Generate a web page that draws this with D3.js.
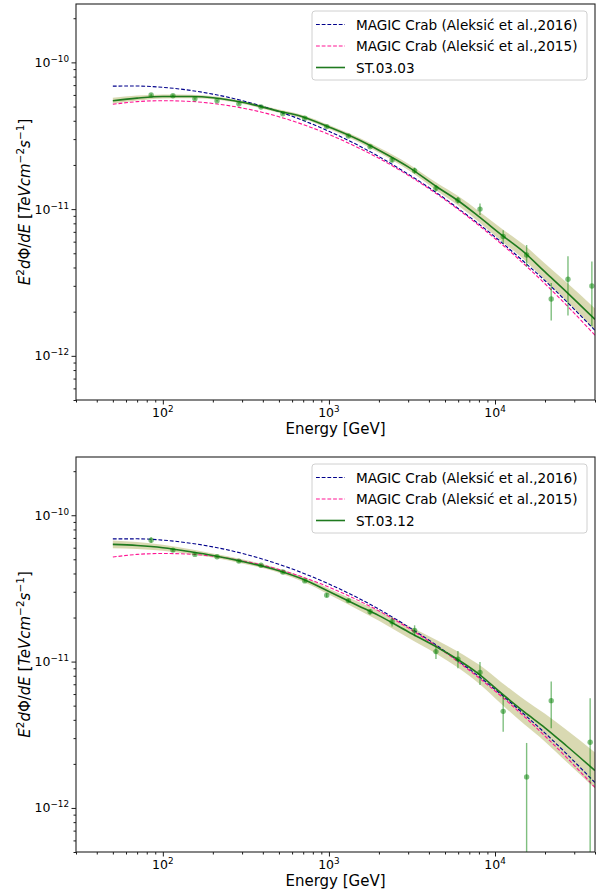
<!DOCTYPE html>
<html>
<head>
<meta charset="utf-8">
<script src="https://cdn.jsdelivr.net/npm/d3@7"></script>
<style>
  body { margin: 0; background: #fff; }
  svg { display: block; }
  text { font-family: "DejaVu Sans", sans-serif; fill: #000; }
</style>
</head>
<body>
<svg id="fig" width="609" height="890"></svg>
<script>
// ---- Model spectra (E^2 dPhi/dE, TeV cm^-2 s^-1) sampled on an energy grid (GeV)
const curveEnergy = [50, 70, 100, 150, 200, 300, 500, 700, 1000, 1500, 2000, 3000, 4500, 6000, 8000, 11000, 15000, 20000, 27000, 40000];

const magic2016 = [6.89e-11, 6.90e-11, 6.76e-11, 6.42e-11, 6.08e-11, 5.49e-11, 4.62e-11, 4.02e-11, 3.39e-11, 2.72e-11,
                   2.28e-11, 1.73e-11, 1.28e-11, 1.01e-11, 7.91e-12, 5.91e-12, 4.36e-12, 3.25e-12, 2.34e-12, 1.49e-12];
const magic2015 = [5.18e-11, 5.40e-11, 5.48e-11, 5.41e-11, 5.25e-11, 4.89e-11, 4.26e-11, 3.77e-11, 3.23e-11, 2.62e-11,
                   2.22e-11, 1.70e-11, 1.26e-11, 9.96e-12, 7.74e-12, 5.75e-12, 4.21e-12, 3.10e-12, 2.21e-12, 1.38e-12];

// Fitted spectrum and its uncertainty band (half width in dex) for each run
const st0303Fit = [5.48e-11, 5.71e-11, 5.86e-11, 5.85e-11, 5.74e-11, 5.35e-11, 4.65e-11, 4.25e-11, 3.63e-11, 2.98e-11,
                   2.52e-11, 1.94e-11, 1.41e-11, 1.14e-11, 8.89e-12, 6.65e-12, 5.07e-12, 3.73e-12, 2.72e-12, 1.77e-12];
const st0303BandDex = [0.020, 0.017, 0.014, 0.012, 0.011, 0.011, 0.011, 0.012, 0.014, 0.016,
                       0.018, 0.022, 0.027, 0.032, 0.037, 0.043, 0.050, 0.057, 0.065, 0.075];

const st0312Fit = [6.32e-11, 6.21e-11, 6.00e-11, 5.61e-11, 5.31e-11, 4.84e-11, 4.18e-11, 3.65e-11, 3.01e-11, 2.41e-11,
                   2.06e-11, 1.60e-11, 1.25e-11, 1.03e-11, 8.22e-12, 6.04e-12, 4.53e-12, 3.53e-12, 2.65e-12, 1.80e-12];
const st0312BandDex = [0.027, 0.024, 0.020, 0.017, 0.014, 0.014, 0.014, 0.017, 0.020, 0.027,
                       0.034, 0.041, 0.048, 0.055, 0.065, 0.075, 0.085, 0.095, 0.109, 0.123];

// ---- Flux points with 1-sigma errors
const st0303Energy = [85, 115, 156, 212, 287, 390, 528, 716, 970, 1310, 1770, 2400, 3280, 4410, 5980, 8120, 11200, 15500, 21800, 27500, 38300];
const st0303Flux = [6.00e-11, 5.93e-11, 5.65e-11, 5.48e-11, 5.23e-11, 4.96e-11, 4.47e-11, 4.16e-11, 3.65e-11, 3.15e-11,
                    2.66e-11, 2.16e-11, 1.83e-11, 1.39e-11, 1.15e-11, 1.00e-11, 6.50e-12, 4.87e-12, 2.44e-12, 3.33e-12, 2.99e-12];
const st0303Err = [1.2e-12, 1.0e-12, 8.0e-13, 7.0e-13, 7.0e-13, 7.0e-13, 7.0e-13, 7.0e-13, 6.0e-13, 6.0e-13,
                   5.0e-13, 7.0e-13, 9.0e-13, 7.0e-13, 6.0e-13, 9.0e-13, 6.8e-13, 8.2e-13, 7.0e-13, 1.45e-12, 1.40e-12];

const st0312Energy = [85, 115, 156, 212, 287, 390, 528, 716, 970, 1310, 1770, 2400, 3280, 4410, 5980, 8120, 11200, 15500, 21800, 37400];
const st0312Flux = [6.76e-11, 5.78e-11, 5.40e-11, 5.20e-11, 4.86e-11, 4.55e-11, 4.09e-11, 3.56e-11, 2.84e-11, 2.61e-11,
                    2.19e-11, 1.87e-11, 1.63e-11, 1.17e-11, 1.04e-11, 8.43e-12, 4.57e-12, 1.63e-12, 5.41e-12, 2.81e-12];
const st0312Err = [3.0e-12, 1.2e-12, 1.0e-12, 8.0e-13, 8.0e-13, 7.0e-13, 7.0e-13, 7.0e-13, 9.0e-13, 7.0e-13,
                   9.0e-13, 1.3e-12, 1.4e-12, 1.3e-12, 1.4e-12, 1.5e-12, 1.25e-12, 1.15e-12, 1.9e-12, 2.8e-12];

// ---- Axis ticks and labels
const xTicks = [1e2, 1e3, 1e4];
const xTickExp = ["2", "3", "4"];
const yTicks = [1e-12, 1e-11, 1e-10];
const yTickExp = ["\u221212", "\u221211", "\u221210"];
const xDomain = [30, 40000];
const yDomain = [5e-13, 2.5e-10];
const legendLabels = ["MAGIC Crab (Aleksi\u0107 et al.,2016)", "MAGIC Crab (Aleksi\u0107 et al.,2015)"];
const runNames = ["ST.03.03", "ST.03.12"];

// ---- Styles
const colBlue = "#00008b";
const colPink = "#ff1493";
const colGreen = "#1f7a1f";
const colPoint = "#008000";
const colBand = "#808000";

const svg = d3.select("#fig");

const panels = [
  { top: 4,   bottom: 400, name: runNames[0], fit: st0303Fit, dex: st0303BandDex,
    E: st0303Energy, F: st0303Flux, err: st0303Err },
  { top: 457, bottom: 852, name: runNames[1], fit: st0312Fit, dex: st0312BandDex,
    E: st0312Energy, F: st0312Flux, err: st0312Err }
];

// minor tick positions (2..9 x 10^n) inside a log domain
function minorTicks(domain) {
  const out = [];
  const lo = Math.floor(Math.log10(domain[0])), hi = Math.ceil(Math.log10(domain[1]));
  for (let e = lo; e <= hi; e++) {
    for (let m = 2; m <= 9; m++) {
      const v = m * Math.pow(10, e);
      if (v >= domain[0] * 0.9999 && v <= domain[1] * 1.0001) out.push(v);
    }
  }
  return out;
}

panels.forEach((p, i) => {
  const x = d3.scaleLog().domain(xDomain).range([76, 595]);
  const y = d3.scaleLog().domain(yDomain).range([p.bottom, p.top]);
  const g = svg.append("g");

  const clipId = "clip" + i;
  g.append("clipPath").attr("id", clipId)
    .append("rect").attr("x", 76).attr("y", p.top).attr("width", 595 - 76).attr("height", p.bottom - p.top);

  const plot = g.append("g").attr("clip-path", `url(#${clipId})`);

  const curve = d3.curveMonotoneX;

  // uncertainty band of the fit
  const band = d3.area()
    .x((d, k) => x(curveEnergy[k]))
    .y0((d, k) => y(p.fit[k] / Math.pow(10, p.dex[k])))
    .y1((d, k) => y(p.fit[k] * Math.pow(10, p.dex[k])))
    .curve(curve);
  plot.append("path").datum(p.fit).attr("d", band)
    .attr("fill", colBand).attr("fill-opacity", 0.3).attr("stroke", "none");

  const line = d3.line().x((d, k) => x(curveEnergy[k])).y(d => y(d)).curve(curve);

  plot.append("path").datum(magic2016).attr("d", line)
    .attr("fill", "none").attr("stroke", colBlue).attr("stroke-width", 1.1).attr("stroke-dasharray", "3.8,1.9");
  plot.append("path").datum(magic2015).attr("d", line)
    .attr("fill", "none").attr("stroke", colPink).attr("stroke-width", 1.1).attr("stroke-dasharray", "3.8,1.9");
  plot.append("path").datum(p.fit).attr("d", line)
    .attr("fill", "none").attr("stroke", colGreen).attr("stroke-width", 1.6);

  // flux points with error bars
  const pts = plot.append("g");
  p.E.forEach((e, k) => {
    const lo = Math.max(p.F[k] - p.err[k], 1e-14);
    const hi = p.F[k] + p.err[k];
    pts.append("line")
      .attr("x1", x(e)).attr("x2", x(e))
      .attr("y1", y(lo)).attr("y2", y(hi))
      .attr("stroke", colPoint).attr("stroke-opacity", 0.5).attr("stroke-width", 1.4);
    pts.append("circle")
      .attr("cx", x(e)).attr("cy", y(p.F[k])).attr("r", 2.7)
      .attr("fill", colPoint).attr("fill-opacity", 0.5);
  });

  // axes: major and minor ticks
  const xMajor = d3.axisBottom(x).tickValues(xTicks).tickSize(4.5).tickFormat(() => "");
  const xMinor = d3.axisBottom(x).tickValues(minorTicks(xDomain)).tickSize(2.5).tickFormat(() => "");
  const yMajor = d3.axisLeft(y).tickValues(yTicks).tickSize(4.5).tickFormat(() => "");
  const yMinor = d3.axisLeft(y).tickValues(minorTicks(yDomain)).tickSize(2.5).tickFormat(() => "");

  [xMajor, xMinor].forEach(ax => {
    const a = g.append("g").attr("transform", `translate(0,${p.bottom})`).call(ax);
    a.select(".domain").remove();
    a.selectAll("line").attr("stroke", "#000").attr("stroke-width", 0.9);
  });
  [yMajor, yMinor].forEach(ax => {
    const a = g.append("g").attr("transform", "translate(76,0)").call(ax);
    a.select(".domain").remove();
    a.selectAll("line").attr("stroke", "#000").attr("stroke-width", 0.9);
  });

  // tick labels as 10^n
  xTicks.forEach((v, k) => {
    const t = g.append("text").attr("x", x(v)).attr("y", p.bottom + 16.5)
      .attr("text-anchor", "middle").attr("font-size", 12.5);
    t.append("tspan").text("10");
    t.append("tspan").attr("dy", -5).attr("font-size", 8.8).text(xTickExp[k]);
  });
  yTicks.forEach((v, k) => {
    const t = g.append("text").attr("x", 69).attr("y", y(v) + 4.5)
      .attr("text-anchor", "end").attr("font-size", 12.5);
    t.append("tspan").text("10");
    t.append("tspan").attr("dy", -5).attr("font-size", 8.8).text(yTickExp[k]);
  });

  // frame
  g.append("rect").attr("x", 76).attr("y", p.top).attr("width", 595 - 76).attr("height", p.bottom - p.top)
    .attr("fill", "none").attr("stroke", "#222").attr("stroke-width", 1.1);

  // axis titles
  g.append("text").attr("x", 335.5).attr("y", p.bottom + 34)
    .attr("text-anchor", "middle").attr("font-size", 15).text("Energy [GeV]");

  const yl = g.append("text")
    .attr("transform", `translate(30,${(p.top + p.bottom) / 2}) rotate(-90)`)
    .attr("text-anchor", "middle").attr("font-size", 15);
  yl.append("tspan").attr("font-style", "italic").text("E");
  yl.append("tspan").attr("dy", -6).attr("font-size", 10.5).text("2");
  yl.append("tspan").attr("dy", 6).attr("font-style", "italic").text("d");
  yl.append("tspan").text("\u03A6/");
  yl.append("tspan").attr("font-style", "italic").text("dE");
  yl.append("tspan").text(" [");
  yl.append("tspan").attr("font-style", "italic").text("TeVcm");
  yl.append("tspan").attr("dy", -6).attr("font-size", 10.5).text("\u22122");
  yl.append("tspan").attr("dy", 6).attr("font-style", "italic").text("s");
  yl.append("tspan").attr("dy", -6).attr("font-size", 10.5).text("\u22121");
  yl.append("tspan").attr("dy", 6).text("]");

  // legend
  const lg = g.append("g").attr("transform", `translate(312,${p.top + 7})`);
  lg.append("rect").attr("x", 0).attr("y", 0).attr("width", 275).attr("height", 69).attr("rx", 3)
    .attr("fill", "#fff").attr("fill-opacity", 0.85).attr("stroke", "#d0d0d0").attr("stroke-width", 1);
  const entries = [
    { label: legendLabels[0], color: colBlue, dash: "3.8,1.9", w: 1.1 },
    { label: legendLabels[1], color: colPink, dash: "3.8,1.9", w: 1.1 },
    { label: p.name, color: colGreen, dash: null, w: 1.6 }
  ];
  entries.forEach((en, k) => {
    const cy = 13.5 + k * 21.5;
    lg.append("line").attr("x1", 4).attr("x2", 33).attr("y1", cy).attr("y2", cy)
      .attr("stroke", en.color).attr("stroke-width", en.w)
      .attr("stroke-dasharray", en.dash);
    lg.append("text").attr("x", 44).attr("y", cy + 5).attr("font-size", 13.6).text(en.label);
  });
});
</script>
</body>
</html>
